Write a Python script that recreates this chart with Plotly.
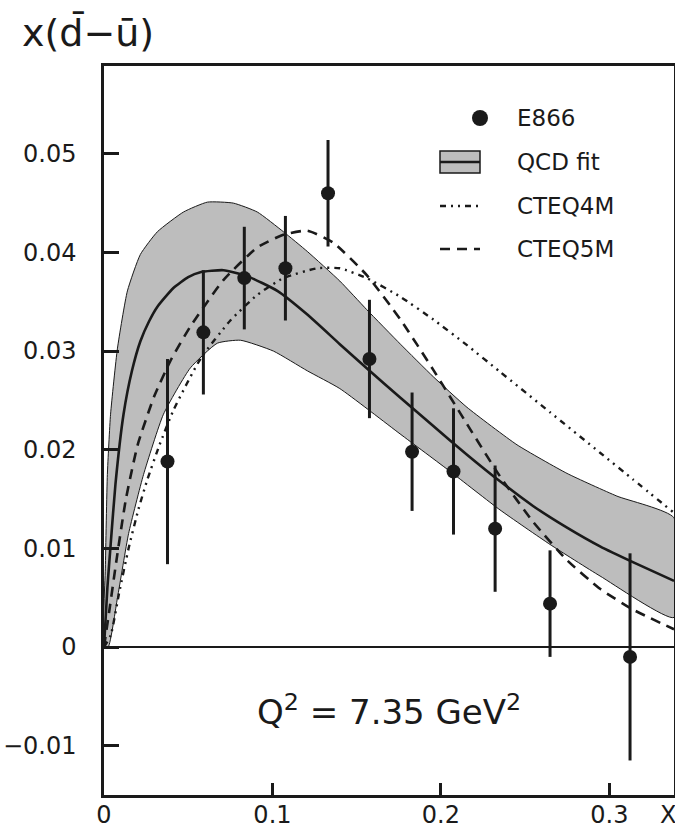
import plotly.graph_objects as go

# ---------------- data ----------------
# E866 data points
e866_x = [0.0377, 0.059, 0.0833, 0.1077, 0.133, 0.1576, 0.1829, 0.2075, 0.2322, 0.2648, 0.3123]
e866_y = [0.0188, 0.0319, 0.0374, 0.0384, 0.0460, 0.0292, 0.0198, 0.0178, 0.0120, 0.0044, -0.0010]
e866_err = [0.0104, 0.0063, 0.0052, 0.0053, 0.0054, 0.0060, 0.0060, 0.0064, 0.0064, 0.0054, 0.0105]

# QCD fit central curve
qcd_x = [0.0, 0.002, 0.004, 0.0068, 0.0116, 0.0166, 0.0216, 0.0267, 0.0317, 0.0412, 0.050, 0.0572,
         0.0709, 0.085, 0.1029, 0.1207, 0.140, 0.157, 0.1758, 0.1955, 0.2155, 0.2351, 0.2547,
         0.2749, 0.2945, 0.314, 0.3384]
qcd_y = [0.0, 0.0060, 0.0105, 0.0165, 0.0236, 0.0280, 0.0310, 0.0330, 0.0345, 0.0364, 0.0375, 0.0380,
         0.0382, 0.0376, 0.0361, 0.0337, 0.0307, 0.0281, 0.0253, 0.0224, 0.0195, 0.0168, 0.0143,
         0.0121, 0.0102, 0.0086, 0.0067]

# QCD fit uncertainty band
band_up_x = [0.0, 0.0008, 0.002, 0.0039, 0.008, 0.0139, 0.0216, 0.0317, 0.0472, 0.0614, 0.0768,
             0.091, 0.1065, 0.1207, 0.140, 0.156, 0.176, 0.1955, 0.2155, 0.2452, 0.2749,
             0.3045, 0.3384]
band_up_y = [0.0, 0.0080, 0.0175, 0.0236, 0.0303, 0.0361, 0.0398, 0.0421, 0.0441, 0.0451, 0.0450,
             0.0441, 0.0421, 0.0401, 0.0371, 0.0342, 0.0307, 0.0274, 0.0243, 0.0205, 0.0176,
             0.0153, 0.0131]
band_lo_x = [0.0, 0.0025, 0.008, 0.0146, 0.0235, 0.0353, 0.0513, 0.0673, 0.081, 0.1006, 0.1207,
             0.140, 0.1758, 0.2055, 0.2351, 0.2648, 0.2945, 0.3384]
band_lo_y = [0.0, 0.0, 0.0050, 0.0115, 0.0175, 0.0236, 0.0283, 0.0308, 0.0311, 0.0300, 0.0280,
             0.0262, 0.0216, 0.0178, 0.0139, 0.0104, 0.0072, 0.0030]

# CTEQ4M
cteq4_x = [0.0, 0.004, 0.009, 0.0146, 0.0205, 0.0258, 0.033, 0.0412, 0.0572, 0.075, 0.091, 0.1065,
           0.1266, 0.140, 0.156, 0.176, 0.1955, 0.2155, 0.2351, 0.2648, 0.2945, 0.314, 0.3384]
cteq4_y = [0.0, 0.0012, 0.0055, 0.0100, 0.0140, 0.0170, 0.0205, 0.0240, 0.0292, 0.0331, 0.0357, 0.0374,
           0.0384, 0.0384, 0.0374, 0.0355, 0.0332, 0.0306, 0.0279, 0.0238, 0.0197, 0.0170, 0.0136]

# CTEQ5M
cteq5_x = [0.0, 0.003, 0.008, 0.013, 0.020, 0.030, 0.040, 0.0513, 0.0709, 0.091, 0.1065, 0.1207,
           0.136, 0.156, 0.176, 0.1955, 0.2155, 0.2351, 0.2547, 0.2749, 0.2945, 0.314, 0.3384]
cteq5_y = [0.0, 0.0035, 0.0095, 0.0150, 0.0205, 0.0255, 0.0292, 0.0325, 0.0372, 0.0405, 0.0418, 0.0422,
           0.0410, 0.0377, 0.0332, 0.0281, 0.0226, 0.0173, 0.0127, 0.0088, 0.0059, 0.0038, 0.0018]

y_tick_vals = [-0.01, 0, 0.01, 0.02, 0.03, 0.04, 0.05]
y_tick_text = ["\u22120.01", "0", "0.01", "0.02", "0.03", "0.04", "0.05"]
x_tick_vals = [0, 0.1, 0.2, 0.3]
x_tick_text = ["0", "0.1", "0.2", "0.3"]

legend_labels = ["E866", "QCD fit", "CTEQ4M", "CTEQ5M"]

# ---------------- figure ----------------
FONT = "DejaVu Sans"
INK = "#1a1a1a"
BAND = "#bdbdbd"
SMOOTH = dict(shape="spline", smoothing=0.5)

fig = go.Figure()

# band polygon
fig.add_trace(go.Scatter(
    x=band_up_x + band_lo_x[::-1],
    y=band_up_y + band_lo_y[::-1],
    mode="lines", fill="toself", fillcolor=BAND,
    line=dict(color=INK, width=1, **SMOOTH), hoverinfo="skip", showlegend=False))

fig.add_trace(go.Scatter(x=qcd_x, y=qcd_y, mode="lines",
                         line=dict(color=INK, width=2.6, **SMOOTH), showlegend=False))
fig.add_trace(go.Scatter(x=cteq4_x, y=cteq4_y, mode="lines",
                         line=dict(color=INK, width=2.4, dash="6px,5px,2px,5px,2px,5px", **SMOOTH),
                         showlegend=False))
fig.add_trace(go.Scatter(x=cteq5_x, y=cteq5_y, mode="lines",
                         line=dict(color=INK, width=2.6, dash="10px,7px", **SMOOTH),
                         showlegend=False))

fig.add_trace(go.Scatter(
    x=e866_x, y=e866_y, mode="markers",
    marker=dict(color=INK, size=14),
    error_y=dict(type="data", array=e866_err, color=INK, thickness=3, width=0),
    showlegend=False))

# axes
W, H = 675, 828
L, R, T, B = 104, 1, 66, 33
fig.update_xaxes(range=[0, 0.3384], tickvals=x_tick_vals, ticktext=x_tick_text,
                 ticks="inside", ticklen=12, tickwidth=2.5, tickcolor=INK,
                 showline=True, linewidth=2.5, linecolor=INK, mirror=True,
                 showgrid=False, zeroline=False, ticklabelstandoff=-4, automargin=False,
                 tickfont=dict(family=FONT, size=24, color=INK))
fig.update_yaxes(range=[-0.015, 0.0589], tickvals=y_tick_vals, ticktext=y_tick_text,
                 ticks="inside", ticklen=15, tickwidth=2.5, tickcolor=INK,
                 showline=True, linewidth=2.5, linecolor=INK, mirror=True,
                 showgrid=False, zeroline=True, zerolinecolor=INK, zerolinewidth=2,
                 ticklabelstandoff=20, automargin=False,
                 tickfont=dict(family=FONT, size=24, color=INK))

pw, ph = W - L - R, H - T - B


def px2paper(px, py):
    return (px - L) / pw, (H - B - py) / ph


shapes = []
annotations = []

# manual legend
rows_py = [118, 162, 206, 249]
sx0, sx1 = 440, 480
tx = 515
# E866 marker
cx, cy = px2paper(480, rows_py[0])
rx, ry = 8 / pw, 8 / ph
shapes.append(dict(type="circle", xref="paper", yref="paper", x0=cx - rx, x1=cx + rx, y0=cy - ry, y1=cy + ry,
                   fillcolor=INK, line=dict(color=INK, width=0)))
# QCD box
bx0, by0 = px2paper(sx0, rows_py[1] + 11)
bx1, by1 = px2paper(sx1, rows_py[1] - 11)
shapes.append(dict(type="rect", xref="paper", yref="paper", x0=bx0, x1=bx1, y0=by0, y1=by1,
                   fillcolor=BAND, line=dict(color=INK, width=1.5)))
mx0, my = px2paper(sx0, rows_py[1])
mx1, _ = px2paper(sx1, rows_py[1])
shapes.append(dict(type="line", xref="paper", yref="paper", x0=mx0, x1=mx1, y0=my, y1=my,
                   line=dict(color=INK, width=2.5)))
# CTEQ4M
lx0, ly = px2paper(sx0, rows_py[2])
lx1, _ = px2paper(sx1, rows_py[2])
shapes.append(dict(type="line", xref="paper", yref="paper", x0=lx0, x1=lx1, y0=ly, y1=ly,
                   line=dict(color=INK, width=2.4, dash="6px,5px,2px,5px,2px,5px")))
# CTEQ5M
lx0, ly = px2paper(sx0, rows_py[3])
lx1, _ = px2paper(sx1, rows_py[3])
shapes.append(dict(type="line", xref="paper", yref="paper", x0=lx0, x1=lx1, y0=ly, y1=ly,
                   line=dict(color=INK, width=2.6, dash="10px,7px")))

for lab, py in zip(legend_labels, rows_py):
    ax, ay = px2paper(tx, py)
    annotations.append(dict(text=lab, xref="paper", yref="paper", x=ax, y=ay, xanchor="left", yanchor="middle",
                            showarrow=False, font=dict(family=FONT, size=23, color=INK)))

# Q^2 label
qx, qy = px2paper(389, 710)
annotations.append(dict(text="Q<sup>2</sup> = 7.35 GeV<sup>2</sup>", xref="paper", yref="paper", x=qx, y=qy,
                        xanchor="center", yanchor="middle", showarrow=False,
                        font=dict(family=FONT, size=34, color=INK)))
# y title
tx_, ty_ = px2paper(88, 33)
annotations.append(dict(text="x(d\u0304\u2212u\u0304)", xref="paper", yref="paper", x=tx_, y=ty_,
                        xanchor="center", yanchor="middle", showarrow=False,
                        font=dict(family=FONT, size=38, color=INK)))
# x label
xx_, xy_ = px2paper(668, 815)
annotations.append(dict(text="X", xref="paper", yref="paper", x=xx_, y=xy_,
                        xanchor="center", yanchor="middle", showarrow=False,
                        font=dict(family=FONT, size=24, color=INK)))

fig.update_layout(width=W, height=H, margin=dict(l=L, r=R, t=T, b=B, pad=0),
                  paper_bgcolor="white", plot_bgcolor="white",
                  shapes=shapes, annotations=annotations, showlegend=False)

fig.write_html("out.html")
